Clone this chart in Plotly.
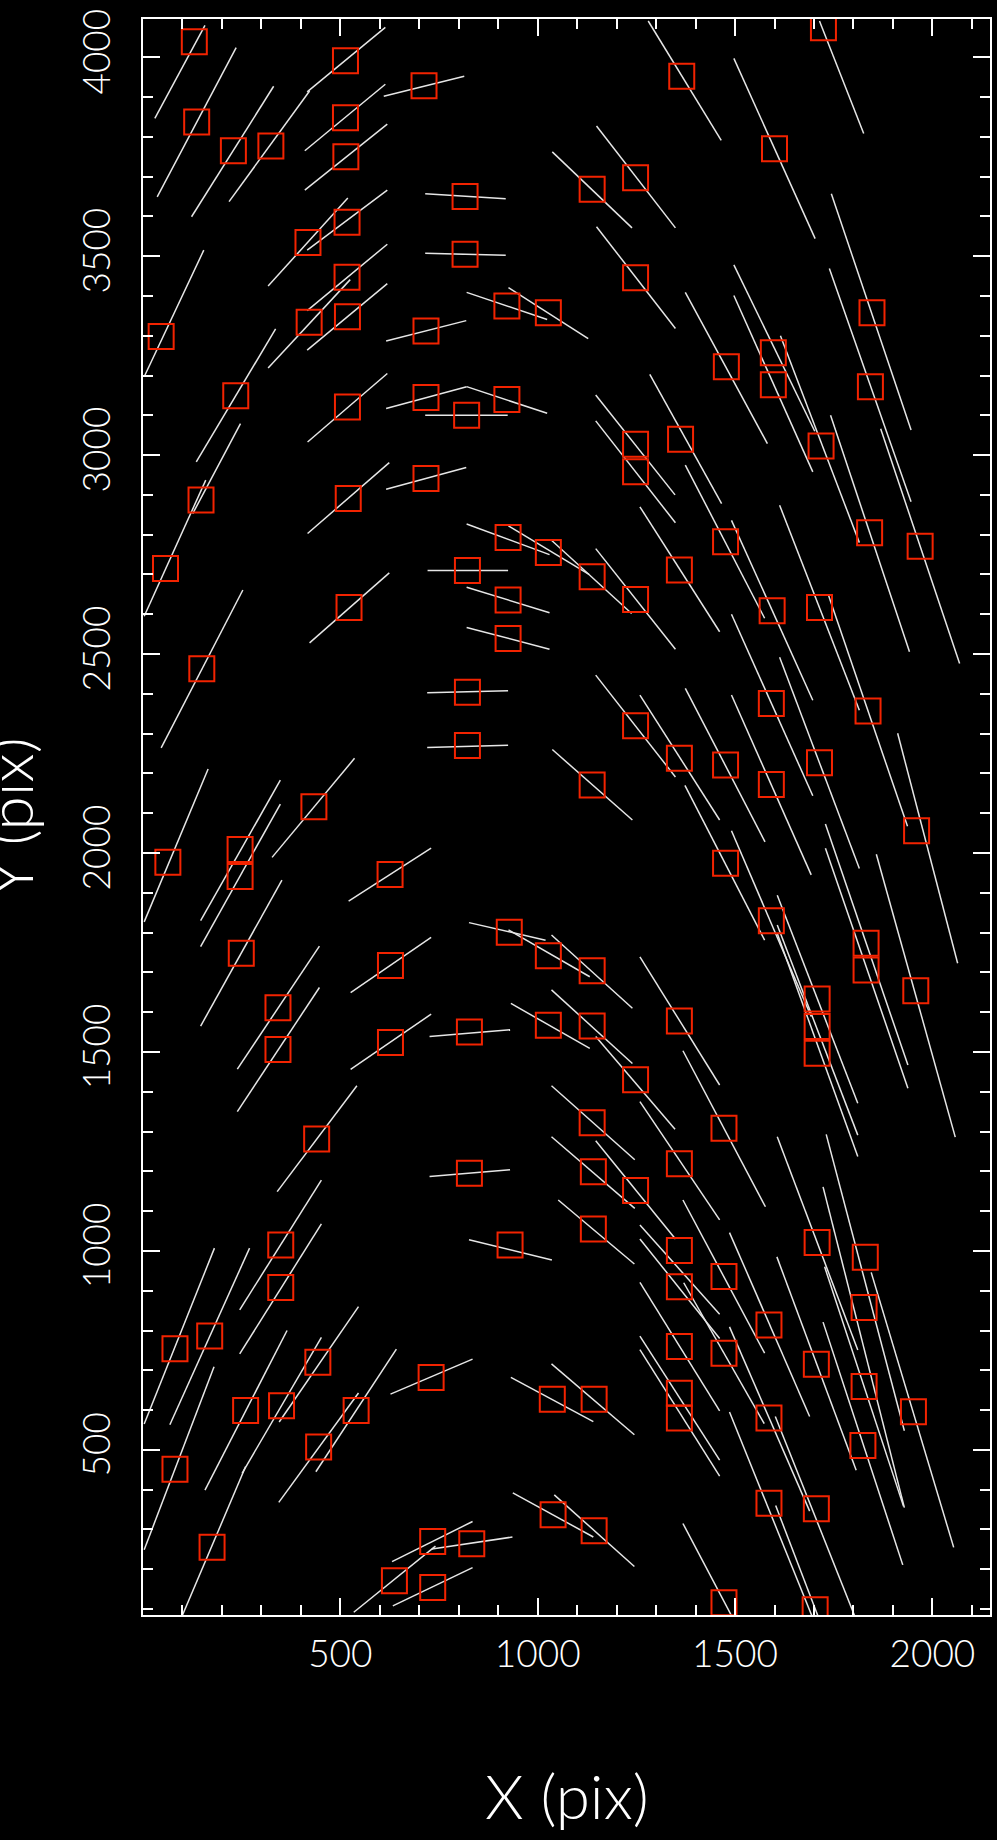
import plotly.graph_objects as go

# ---------------- data (detector pixel coordinates) ----------------
sq_x = [130, 136, 229, 324, 513, 513, 514, 712, 816, 816, 517, 418, 517, 518, 421, 46, 717, 922, 1027, 235, 518, 717, 922, 820,
        1724, 1365, 1600, 1248, 1138, 1248, 1847, 1478, 1597, 1597, 1843,
        147, 520, 717, 57, 925, 1027, 822, 522, 925, 925, 149, 822, 822, 433,
        1248, 1248, 1362, 1718, 1138, 1248, 1359, 1476, 1594, 1714, 1841, 1969, 1592, 1837, 1248, 1359, 1476, 1592, 1714, 1138,
        63, 246, 246, 249, 342, 342, 626, 627, 627, 928, 1027, 1027, 827, 440, 827,
        1476, 1592, 1960, 1832, 1832, 1958, 1708, 1708, 1708, 1138, 1138, 1359, 1248, 1472, 1138, 1141, 1248, 1359,
        349, 349, 81, 169, 260, 351, 443, 540, 445, 81, 175, 730, 930, 734, 833, 637, 734,
        1141, 1359, 1359, 1472, 1586, 1708, 1830, 1827, 1706, 1827, 1952, 1824, 1359, 1472, 1359, 1359, 1586,
        1037, 1143, 1039, 1143, 1586, 1706, 1472, 1703]
sq_y = [4039, 3837, 3765, 3777, 3991, 3848, 3750, 3928, 3650, 3505, 3585, 3534, 3447, 3348, 3334, 3298, 3312, 3375, 3358, 3149, 3121, 3145, 3140, 3100,
        4074, 3952, 3770, 3697, 3668, 3446, 3358, 3222, 3257, 3177, 3172,
        2887, 2891, 2941, 2715, 2793, 2755, 2710, 2617, 2636, 2539, 2463, 2404, 2270, 2116,
        3027, 2958, 3040, 3023, 2694, 2637, 2711, 2782, 2609, 2617, 2805, 2771, 2376, 2357, 2320, 2238, 2221, 2172, 2227, 2171,
        1977, 2009, 1941, 1748, 1611, 1506, 1946, 1717, 1524, 1801, 1742, 1567, 1550, 1281, 1195,
        1974, 1830, 2056, 1773, 1706, 1654, 1633, 1564, 1497, 1704, 1565, 1578, 1430, 1308, 1322, 1199, 1152, 1219,
        1015, 908, 754, 786, 599, 611, 720, 599, 507, 451, 255, 682, 1015, 270, 264, 171, 154,
        1055, 1001, 910, 936, 814, 1021, 984, 858, 715, 659, 596, 511, 760, 743, 642, 580, 580,
        627, 627, 337, 297, 366, 352, 116, 98]

# line segments: start (x0, y0) -> end (x1, y1)
seg_x0 = [30, 36, 123, 218, 416, 410, 610, 410, 715, 715, 317, 416, 416, 317, 416, 3, 135, 616, 820, 926, 417, 616, 820, 715,
          1280, 1497, 1714, 1149, 1037, 1149, 1374, 1497, 1497, 1744, 1739, 1615,
          247, 159, 417, 616, 820, 926, 721, 820, 820, 720, 720, 422, 46, 327,
          1147, 1147, 1284, 1374, 1491, 1259, 1147, 1035, 1613, 1742, 1869, 1491, 1737, 1147, 1259, 1374, 1491, 1613, 1037,
          3, 146, 146, 146, 239, 239, 521, 526, 526, 826, 926, 726, 726, 932, 340,
          1912, 1858, 1729, 1729, 1607, 1607, 1607, 1491, 1373, 1259, 1368, 1035, 1035, 1035, 1035, 1147, 1259, 1147,
          3, 68, 245, 245, 3, 157, 251, 345, 438, 344, 627, 826, 631, 732, 534, 633, 95,
          1052, 1035, 932, 1042, 937, 1259, 1259, 1368, 1486, 1607, 1731, 1723, 1606, 1727, 1845, 1723, 1259, 1370, 1259, 1259,
          1486, 1486, 1602, 1368, 1603]
seg_y0 = [3846, 3649, 3599, 3637, 3913, 3765, 3902, 3666, 3657, 3507, 3425, 3515, 3363, 3219, 3264, 3197, 2983, 3287, 3409, 3421, 3033, 3117, 3172, 3100,
          4091, 3997, 4091, 3827, 3762, 3574, 3409, 3478, 3401, 3657, 3469, 3300,
          3079, 2937, 2803, 2914, 2827, 2822, 2710, 2668, 2567, 2403, 2265, 2528, 2264, 1989,
          3151, 3086, 3203, 2975, 2836, 2870, 2765, 2786, 2874, 3100, 3066, 2600, 2647, 2447, 2397, 2414, 2397, 2492, 2260,
          1827, 1830, 1765, 1565, 1457, 1350, 1879, 1649, 1456, 1825, 1807, 1539, 1187, 1622, 1149,
          2301, 1997, 2073, 2012, 1894, 1819, 1798, 2056, 2170, 1739, 1503, 1794, 1656, 1415, 1287, 1277, 1375, 1539,
          565, 563, 852, 741, 249, 399, 441, 570, 445, 368, 640, 1028, 219, 251, 92, 108, 73,
          1128, 716, 682, 387, 392, 1065, 1030, 1128, 1046, 1287, 1293, 1161, 985, 960, 946, 821, 921, 920, 786, 752,
          809, 595, 584, 315, 360]
seg_x1 = [157, 236, 331, 422, 614, 614, 814, 619, 919, 919, 519, 619, 619, 525, 619, 154, 336, 819, 1024, 1128, 619, 820, 1024, 924,
          1465, 1703, 1826, 1349, 1239, 1349, 1582, 1702, 1697, 1946, 1946, 1815,
          126, 3, 624, 819, 1030, 1130, 925, 1030, 1030, 925, 925, 624, 253, 536,
          1348, 1349, 1466, 1575, 1697, 1461, 1349, 1238, 1815, 1942, 2069, 1697, 1937, 1349, 1461, 1576, 1693, 1815, 1240,
          165, 348, 348, 352, 447, 447, 730, 730, 730, 1020, 1132, 930, 930, 1132, 542,
          2064, 2058, 1938, 1938, 1811, 1811, 1811, 1693, 1575, 1461, 1577, 1240, 1240, 1246, 1246, 1349, 1461, 1348,
          181, 270, 452, 452, 180, 365, 452, 546, 642, 546, 835, 1036, 835, 936, 741, 835, 260,
          1245, 1245, 1141, 1245, 1141, 1461, 1461, 1575, 1689, 1811, 1929, 1929, 1807, 1927, 2054, 1925, 1461, 1574, 1461, 1461,
          1689, 1700, 1807, 1530, 1740]
seg_y1 = [4080, 4024, 3927, 3915, 4075, 3932, 3952, 3832, 3644, 3502, 3646, 3666, 3530, 3441, 3431, 3515, 3317, 3338, 3341, 3293, 3205, 3172, 3105, 3100,
          3791, 3544, 3808, 3571, 3571, 3318, 3029, 3060, 2958, 3063, 2883, 2780,
          2853, 2595, 2981, 2969, 2750, 2700, 2710, 2604, 2512, 2408, 2271, 2704, 2661, 2238,
          2900, 2830, 2878, 2590, 2384, 2556, 2512, 2602, 2359, 2506, 2476, 2144, 2067, 2191, 2083, 2028, 1945, 1961, 2083,
          2211, 2183, 2123, 1932, 1766, 1662, 2012, 1788, 1595, 1781, 1689, 1556, 1204, 1509, 1415,
          1723, 1286, 1467, 1409, 1371, 1291, 1237, 1589, 1781, 1417, 1111, 1610, 1471, 1229, 1107, 1030, 1078, 1306,
          1007, 1007, 1178, 1068, 709, 800, 783, 860, 753, 643, 728, 977, 320, 281, 258, 204, 458,
          967, 538, 571, 207, 281, 841, 780, 743, 584, 751, 548, 355, 449, 358, 255, 211, 598, 566, 474, 434,
          346, 70, 73, 10, 5]

x_tickvals = [500, 1000, 1500, 2000]
y_tickvals = [500, 1000, 1500, 2000, 2500, 3000, 3500, 4000]

# ---------------- figure ----------------
lx, ly = [], []
for a, b, c, d in zip(seg_x0, seg_y0, seg_x1, seg_y1):
    lx += [a, c, None]
    ly += [b, d, None]

fig = go.Figure()
fig.add_trace(go.Scatter(x=lx, y=ly, mode="lines",
                         line=dict(color="#e6e6e6", width=1.5),
                         hoverinfo="skip", showlegend=False))
fig.add_trace(go.Scatter(x=sq_x, y=sq_y, mode="markers",
                         marker=dict(symbol="square-open", size=25,
                                     color="#f22300", line=dict(width=2, color="#f22300")),
                         showlegend=False))

FONT = "Lato, Liberation Sans, DejaVu Sans"
tickfont = dict(family=FONT, size=37, color="white", weight=300)
axis_common = dict(showline=True, linecolor="white", linewidth=1.5, mirror="allticks",
                   ticks="inside", ticklen=17, tickwidth=1.5, tickcolor="white",
                   showgrid=False, zeroline=False, tickfont=tickfont, tickmode="array",
                   minor=dict(ticks="inside", ticklen=10, tickwidth=1.5, tickcolor="white",
                              tickmode="linear", tick0=0, dtick=100, showgrid=False))

fig.update_xaxes(range=[0, 2146], tickvals=x_tickvals, ticktext=[str(v) for v in x_tickvals],
                 ticklabelstandoff=6, **axis_common)
fig.update_yaxes(range=[85, 4096], tickvals=y_tickvals, ticktext=[str(v) for v in y_tickvals],
                 tickangle=-90, ticklabelstandoff=16, **axis_common)

fig.update_layout(
    width=997, height=1840,
    margin=dict(l=143, r=5, t=19, b=225),
    paper_bgcolor="black", plot_bgcolor="black",
    annotations=[
        dict(text="X (pix)", xref="paper", yref="paper", x=0.5, y=0, yshift=-180,
             xanchor="center", yanchor="middle", showarrow=False,
             font=dict(family=FONT, size=62, color="white", weight=300)),
        dict(text="Y (pix)", xref="paper", yref="paper", x=0, y=0.5, xshift=-134,
             xanchor="center", yanchor="middle", textangle=-90, showarrow=False,
             font=dict(family=FONT, size=62, color="white", weight=300)),
    ],
)

fig.write_html("out.html", config={"displayModeBar": False},
               post_script="document.body.style.margin='0';document.body.style.background='black';")
